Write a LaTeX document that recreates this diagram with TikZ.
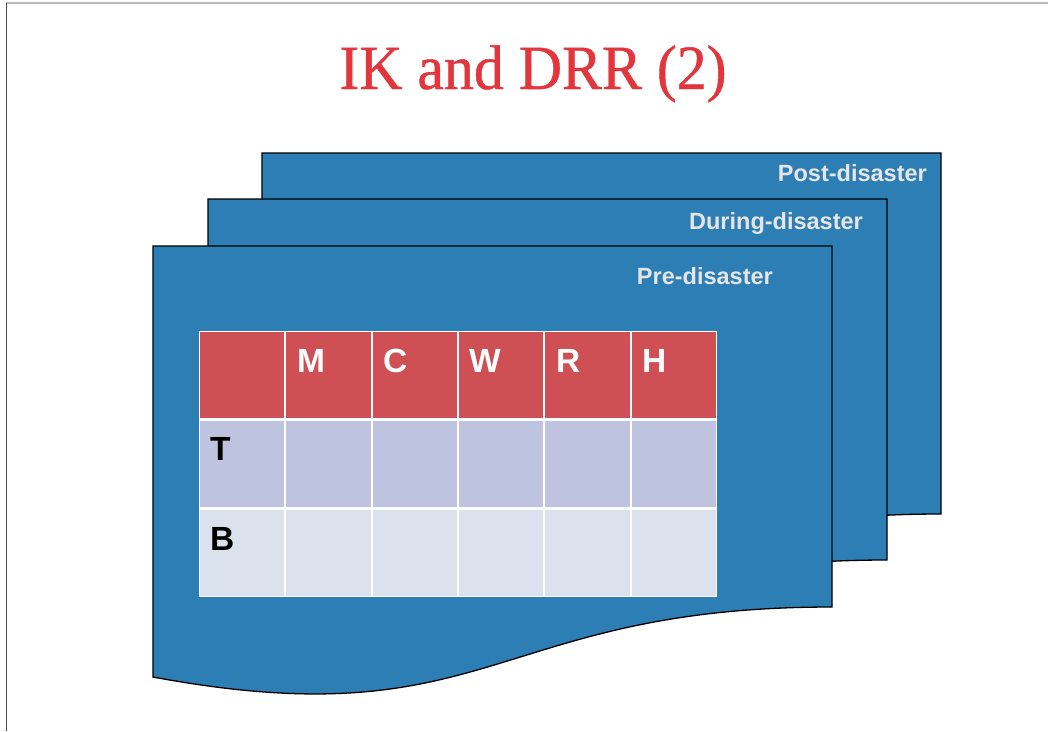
\documentclass[tikz,border=0pt]{standalone}
\usepackage{fontspec}
\setmainfont{Liberation Sans}
\newfontfamily\titlefont[FakeStretch=0.95,FakeBold=0.7]{Liberation Serif}
\definecolor{sheetblue}{RGB}{45,126,180}
\definecolor{titlered}{RGB}{226,54,60}
\definecolor{headred}{RGB}{206,80,84}
\definecolor{rowT}{RGB}{190,196,224}
\definecolor{rowB}{RGB}{220,225,238}
\tikzset{
  sheet/.pic={\filldraw[fill=sheetblue, draw=black, line width=1.3pt]
     (0,0) -- (679,0) -- (679,361) .. controls (339,361) and (339,494) .. (0,431) -- cycle;},
  sheetlabel/.style={font=\fontsize{23.5}{24}\selectfont\bfseries, text=white!90!black, inner sep=0pt, anchor=base east},
  headlabel/.style={font=\fontsize{33.5}{34}\selectfont\bfseries, text=white, inner sep=0pt, anchor=base west},
  rowlabel/.style={font=\fontsize{33.5}{34}\selectfont\bfseries, text=black, inner sep=0pt, anchor=base west},
  titlestyle/.style={font=\titlefont\fontsize{63}{63}\selectfont, text=titlered, inner sep=0pt, anchor=base}
}
\begin{document}
\begin{tikzpicture}[x=1pt,y=-1pt]
\useasboundingbox (0,0) rectangle (1048,731);
\draw[gray!55, line width=1.8pt] (6,3) -- (1048,3);
\draw[black!70, line width=1.3pt] (6.5,3) -- (6.5,731);
\node[titlestyle] (title) at (533,89) {IK and DRR (2)};
% sheets
\pic at (262,153) {sheet};
\node[sheetlabel] (post) at (927,181) {Post-disaster};
\pic at (208,199) {sheet};
\node[sheetlabel] (during) at (863,229) {During-disaster};
\pic at (153,246) {sheet};
\node[sheetlabel] (pre) at (773,284) {Pre-disaster};
% table
\fill[white] (199,331) rectangle (717,597);
\foreach \i in {0,...,5} {
  \pgfmathsetmacro{\xa}{199+86.33*\i+1}
  \pgfmathsetmacro{\xb}{199+86.33*(\i+1)-1}
  \fill[headred] (\xa,332) rectangle (\xb,417.5);
  \fill[rowT] (\xa,421) rectangle (\xb,507);
  \fill[rowB] (\xa,509.5) rectangle (\xb,596);
}
\node[headlabel] (hM) at (297,372) {M};
\node[headlabel] (hC) at (383,372) {C};
\node[headlabel] (hW) at (469,372) {W};
\node[headlabel] (hR) at (556,372) {R};
\node[headlabel] (hH) at (642,372) {H};
\node[rowlabel] (rT) at (210,460) {T};
\node[rowlabel] (rB) at (210,550) {B};
\end{tikzpicture}
\end{document}
